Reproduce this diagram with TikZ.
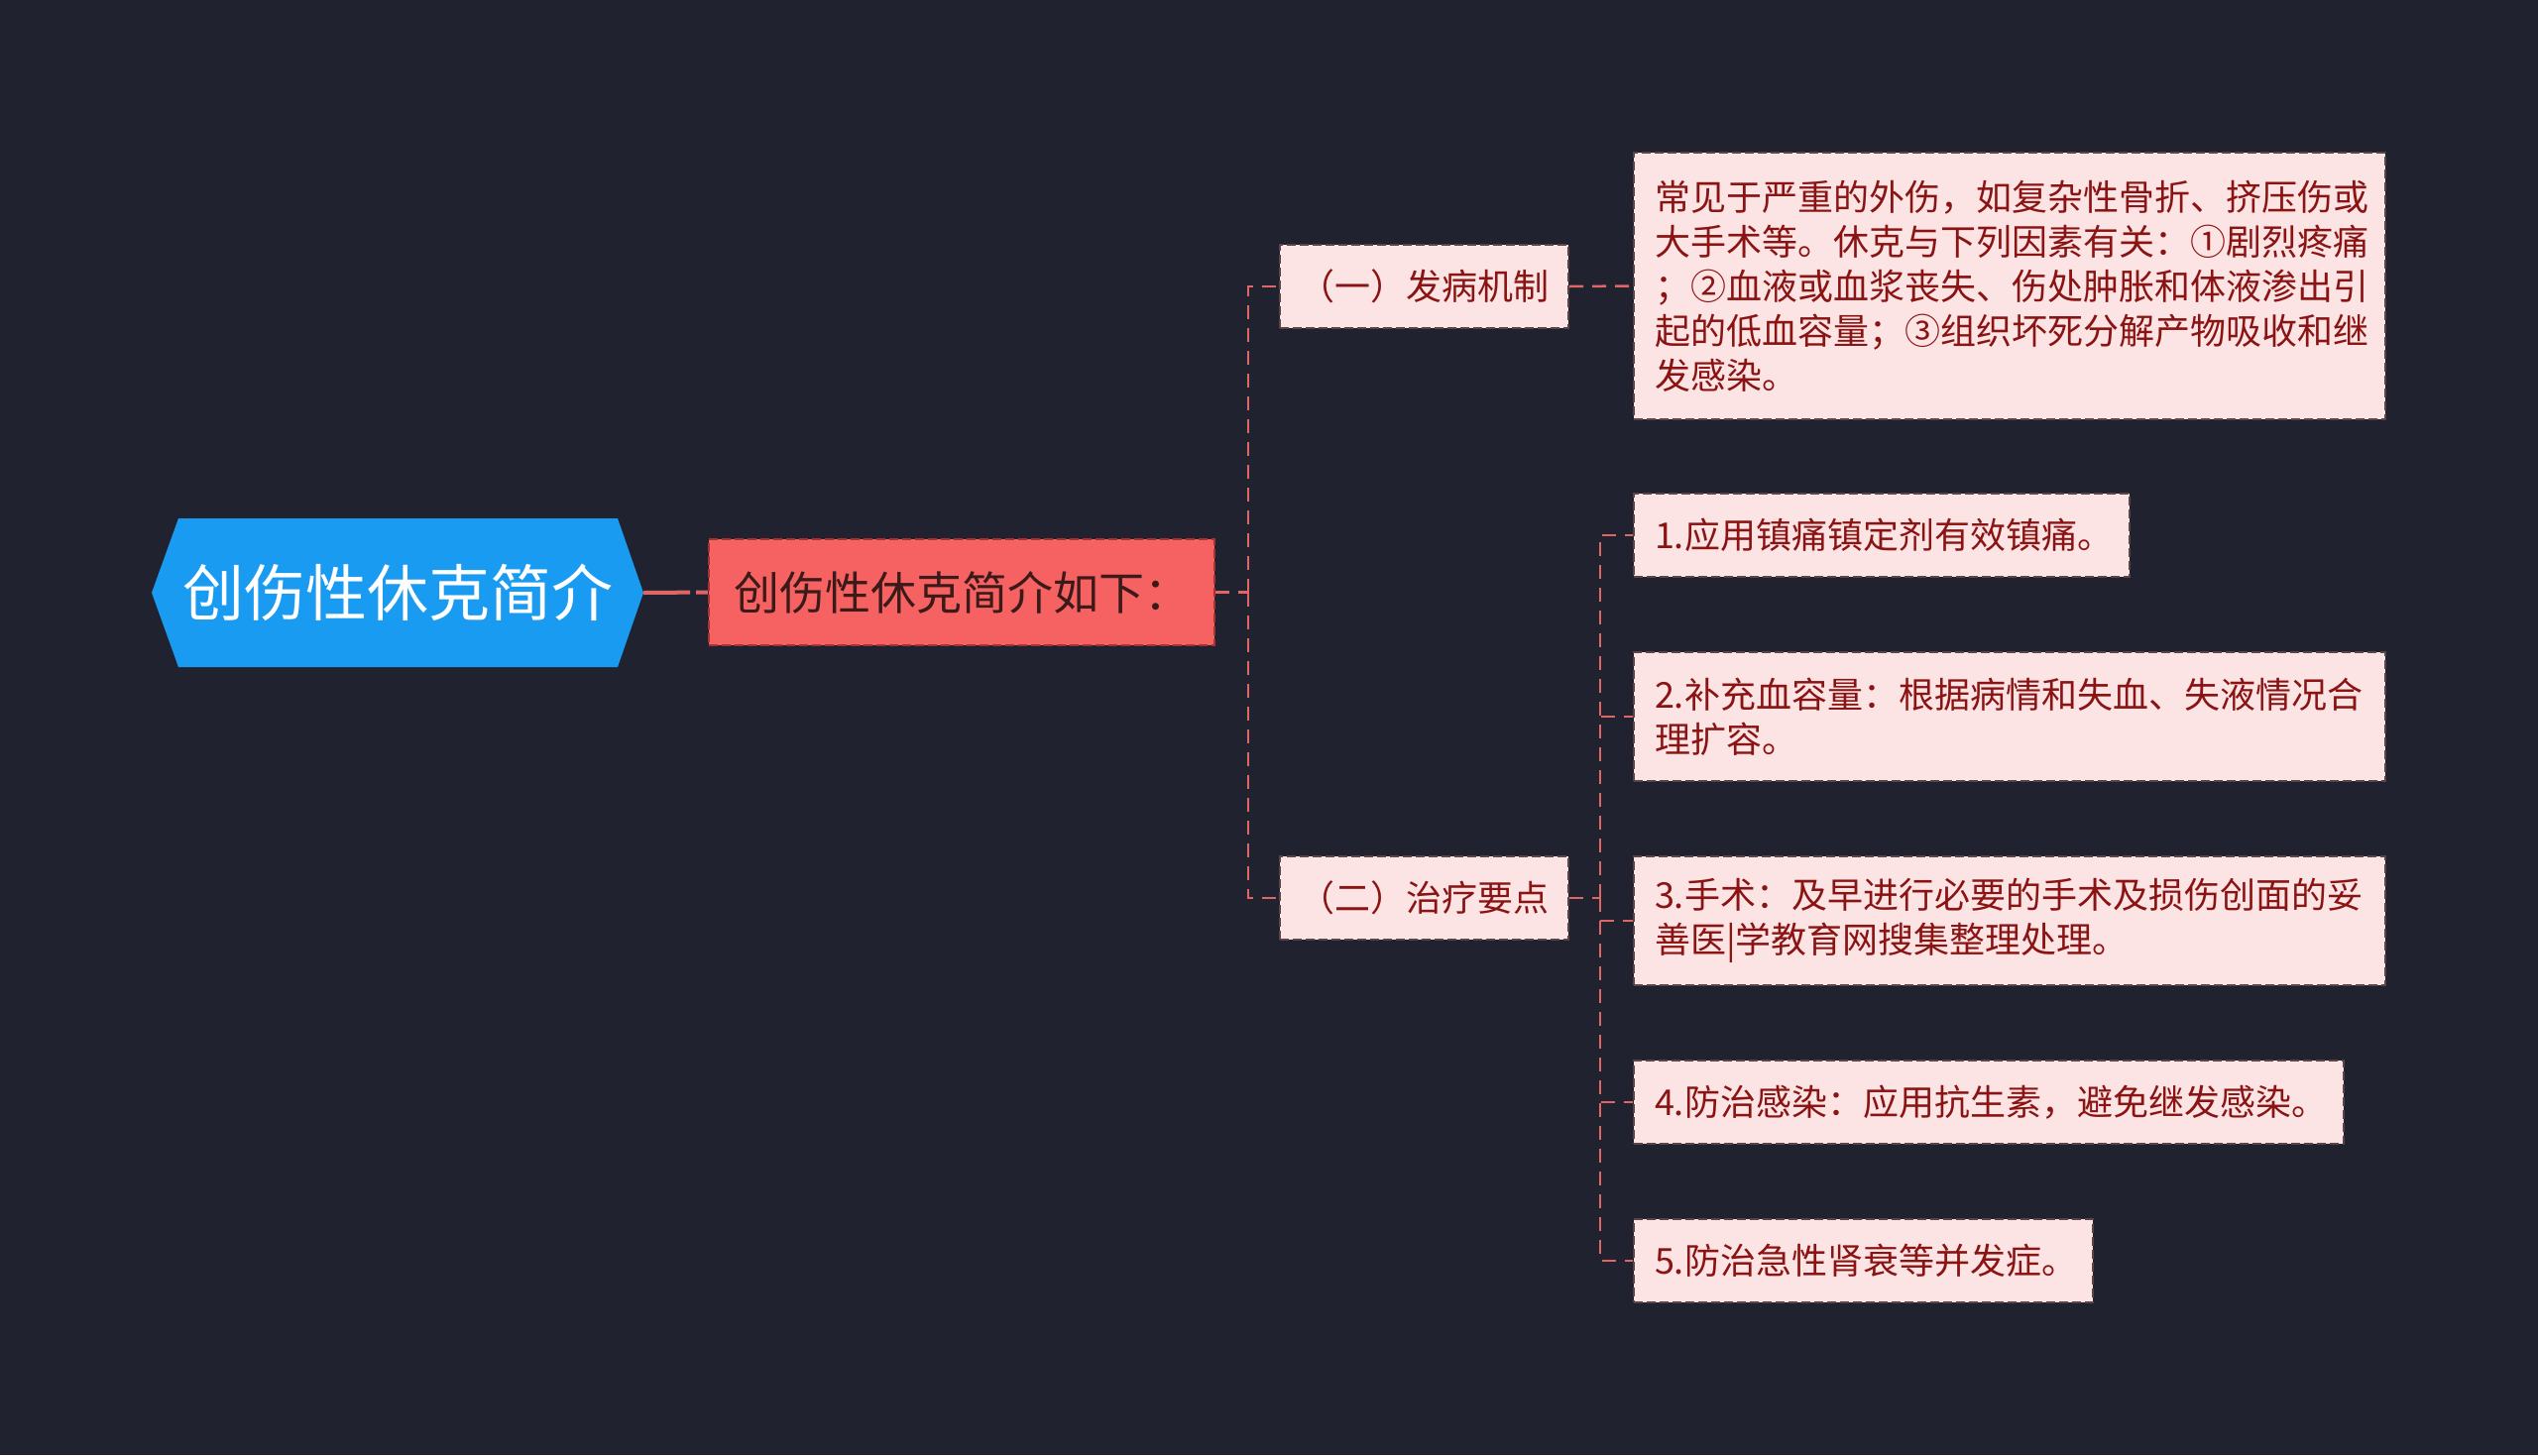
\documentclass[tikz,border=0pt]{standalone}
\usepackage{fontspec}
\setmainfont{Noto Sans CJK SC}
\definecolor{bg}{HTML}{20232F}
\definecolor{rootblue}{HTML}{1A9BF2}
\definecolor{mainred}{HTML}{F66262}
\definecolor{mainline}{HTML}{A83232}
\definecolor{maintext}{HTML}{3D1A1A}
\definecolor{pinkfill}{HTML}{FDE4E4}
\definecolor{pinkline}{HTML}{5A4444}
\definecolor{pinktext}{HTML}{8A1414}
\definecolor{conncol}{HTML}{E06666}
\begin{document}
\begin{tikzpicture}[x=1pt,y=-1pt,
  pinkbox/.style={draw=pinkline, fill=pinkfill, text=pinktext, line width=2pt,
    dash pattern=on 9pt off 4pt, font=\fontsize{36}{45}\selectfont, inner ysep=0pt},
  itembox/.style={pinkbox, anchor=west, inner xsep=21pt, align=left},
  childbox/.style={pinkbox, minimum width=291pt, minimum height=84pt, inner xsep=0pt, align=center},
  conn/.style={draw=conncol, line width=2.5pt, dash pattern=on 14pt off 9pt},
  rootconn/.style={draw=conncol, line width=4pt, dash pattern=on 47pt off 6pt}]
\fill[bg] (0,0) rectangle (2560,1468);
\useasboundingbox (0,0) rectangle (2560,1468);
% root hexagon
\fill[rootblue] (153,598) -- (180,523) -- (623,523) -- (649,598) -- (623,673) -- (180,673) -- cycle;
\node[text=white, font=\fontsize{62}{72}\selectfont, minimum width=496pt, minimum height=150pt, inner sep=0pt] (root) at (401,598) {创伤性休克简介};
% main
\node[fill=mainred, draw=mainline, line width=2pt, dash pattern=on 9pt off 4pt, text=maintext,
  font=\fontsize{46}{54}\selectfont, minimum width=510pt, minimum height=107pt, inner sep=0pt] (main) at (970,597.5) {创伤性休克简介如下：};
% children
\node[childbox] (c1) at (1436.5,289) {（一）发病机制};
\node[childbox] (c2) at (1436.5,906) {（二）治疗要点};
% details
\node[itembox, text width=716pt, minimum height=269pt] (d1) at (1647,288.5) {常见于严重的外伤，如复杂性骨折、挤压伤或\\大手术等。休克与下列因素有关：①剧烈疼痛\\；②血液或血浆丧失、伤处肿胀和体液渗出引\\起的低血容量；③组织坏死分解产物吸收和继\\发感染。};
\node[itembox, text width=458pt, minimum height=84pt] (i1) at (1647,540) {1.应用镇痛镇定剂有效镇痛。};
\node[itembox, text width=716pt, minimum height=130pt] (i2) at (1647,723) {2.补充血容量：根据病情和失血、失液情况合\\理扩容。};
\node[itembox, text width=716pt, minimum height=130pt] (i3) at (1647,929) {3.手术：及早进行必要的手术及损伤创面的妥\\善医|学教育网搜集整理处理。};
\node[itembox, text width=674pt, minimum height=84pt] (i4) at (1647,1112) {4.防治感染：应用抗生素，避免继发感染。};
\node[itembox, text width=421pt, minimum height=84pt] (i5) at (1647,1272) {5.防治急性肾衰等并发症。};
% junctions
\coordinate (j1) at (1259,597.5);
\coordinate (j2) at (1614,906);
% connectors
\draw[rootconn] (root.east) -- (main.west);
\draw[conn] (main.east) -- (j1);
\draw[conn] (j1) |- (c1.west);
\draw[conn] (j1) |- (c2.west);
\draw[conn] (c1.east) -- (d1.west);
\draw[conn] (c2.east) -- (j2);
\draw[conn] (j2) |- (i1.west);
\draw[conn] (j2) |- (i2.west);
\draw[conn] (j2) |- (i3.west);
\draw[conn] (j2) |- (i4.west);
\draw[conn] (j2) |- (i5.west);
\end{tikzpicture}
\end{document}
